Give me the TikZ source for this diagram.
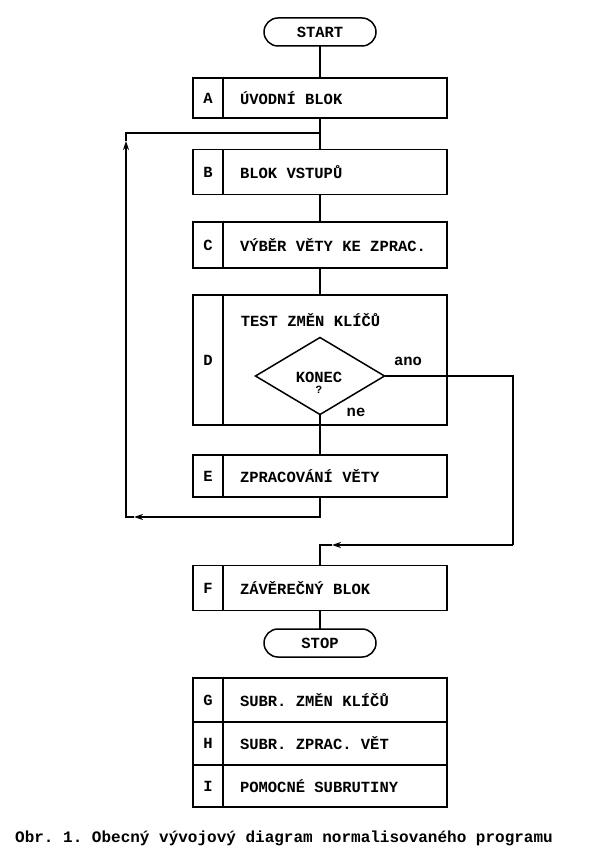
\documentclass[tikz,border=0pt]{standalone}
\usepackage{fontspec}
\setmainfont{Liberation Mono}[WordSpace={1,0,0}]
\frenchspacing
\usetikzlibrary{arrows.meta,positioning,shapes.geometric}

\begin{document}
\begin{tikzpicture}[x=1pt, y=-1pt, >={Stealth[length=9pt,width=6pt]},
  font=\bfseries\fontsize{15.5}{18}\selectfont, line width=1.5pt,
  termbox/.style={draw, rounded corners=14pt, minimum width=112pt, minimum height=28pt, inner sep=0pt, outer sep=0pt},
  letterbox/.style={draw, minimum width=30pt, inner sep=0pt, outer sep=0pt},
  textbox/.style={draw, text width=190pt, inner xsep=17pt, inner ysep=0pt, align=left, outer sep=0pt,
    execute at begin node={\spaceskip=0pt\xspaceskip=0pt\relax}},
  decide/.style={draw, diamond, aspect=1.7, minimum width=129pt, minimum height=77pt, inner sep=0pt, outer sep=0pt}]
  \useasboundingbox (0,0) rectangle (590,866);

  % Start
  \node[termbox] (start) at (320,32) {START};

  % Main blocks
  \node[letterbox, minimum height=40pt] (la) at (208,98) {A};
  \node[textbox, minimum height=40pt, right=0pt of la] (a) {ÚVODNÍ BLOK};

  \node[letterbox, minimum height=45pt] (lb) at (208,172) {B};
  \node[textbox, minimum height=45pt, right=0pt of lb] (b) {BLOK VSTUPŮ};

  \node[letterbox, minimum height=46pt] (lc) at (208,245) {C};
  \node[textbox, minimum height=46pt, right=0pt of lc] (c) {VÝBĚR VĚTY KE ZPRAC.};

  \node[letterbox, minimum height=130pt] (ld) at (208,360) {D};
  \node[textbox, minimum height=130pt, right=0pt of ld] (d) {};
  \node[anchor=west, inner sep=0pt] (dtest) at ([xshift=17pt,yshift=-25pt]d.north west) {TEST ZMĚN KLÍČŮ};
  \node[decide] (konec) at (320,376) {};
  \node[inner sep=0pt] (konectxt) at (319,377) {KONEC};
  \node[inner sep=0pt, font=\bfseries\fontsize{11}{12}\selectfont, below=2pt of konectxt] (qmark) {?};
  \node (ano) at (408,361) {ano};
  \node (ne) at (356,412) {ne};

  \node[letterbox, minimum height=42pt] (le) at (208,476) {E};
  \node[textbox, minimum height=42pt, right=0pt of le] (e) {ZPRACOVÁNÍ VĚTY};

  \node[letterbox, minimum height=45pt] (lf) at (208,588) {F};
  \node[textbox, minimum height=45pt, right=0pt of lf] (f) {ZÁVĚREČNÝ BLOK};

  % Stop
  \node[termbox] (stop) at (320,643) {STOP};

  % Subroutines
  \node[letterbox, minimum height=44pt] (lg) at (208,700) {G};
  \node[textbox, minimum height=44pt, right=0pt of lg] (g) {SUBR. ZMĚN KLÍČŮ};
  \node[letterbox, minimum height=43pt, below=0pt of lg] (lh) {H};
  \node[textbox, minimum height=43pt, right=0pt of lh] (h) {SUBR. ZPRAC. VĚT};
  \node[letterbox, minimum height=42pt, below=0pt of lh] (li) {I};
  \node[textbox, minimum height=42pt, right=0pt of li] (i) {POMOCNÉ SUBRUTINY};

  % Trunk
  \draw (start) -- (start |- a.north);
  \draw (start |- a.south) -- (start |- b.north);
  \draw (start |- b.south) -- (start |- c.north);
  \draw (start |- c.south) -- (start |- d.north);
  \draw (konec.south) -- (konec |- e.north);
  \draw (start |- f.south) -- (stop);

  % Loop back to B
  \coordinate (back1) at (134,517);
  \coordinate (back2) at (126,141);
  \coordinate (join) at (320,133);
  \draw[->] (start |- e.south) |- (back1);
  \draw[->] (back1) -| (back2);
  \draw (back2) |- (join);

  % Exit to F
  \coordinate (out1) at (513,545);
  \coordinate (out2) at (332,545);
  \draw (konec.east) -| (out1);
  \draw[->] (out1) -- (out2);
  \draw (out2) -| (start |- f.north);

  % Caption
  \node[font=\bfseries\fontsize{16}{18}\selectfont] (caption) at (284,838) {Obr. 1. Obecný vývojový diagram normalisovaného programu};
\end{tikzpicture}
\end{document}
